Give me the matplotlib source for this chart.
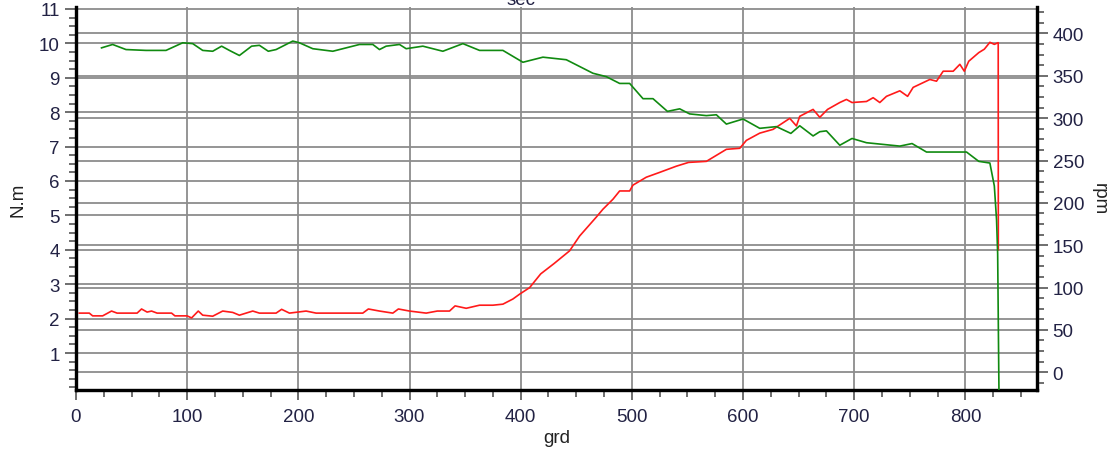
import matplotlib
matplotlib.use('Agg')
import matplotlib.pyplot as plt
from matplotlib.ticker import MultipleLocator, AutoMinorLocator
from matplotlib.transforms import blended_transform_factory

plt.rcParams['font.family'] = ['Liberation Sans', 'DejaVu Sans']

# 扭矩曲线 (N.m, 左轴)
torque_grd = [3, 12, 15, 24, 32, 37, 55, 59, 64, 68, 73, 86, 89, 100, 104, 110,
              114, 123, 132, 141, 147, 159, 165, 180, 185, 192, 207, 216, 258,
              263, 273, 285, 290, 300, 315, 325, 336, 341, 351, 363, 375, 384,
              393, 399, 408, 418, 430, 444, 453, 468, 474, 483, 489, 498, 501,
              513, 525, 540, 551, 567, 585, 597, 603, 615, 627, 642, 648, 651,
              663, 669, 676, 687, 693, 698, 711, 717, 723, 729, 741, 748, 753,
              768, 774, 780, 789, 795, 799, 803, 812, 817, 822, 826, 829.5, 829.6]
torque_nm = [2.16, 2.16, 2.08, 2.08, 2.22, 2.16, 2.16, 2.28, 2.19, 2.22, 2.16,
             2.16, 2.08, 2.08, 2.02, 2.22, 2.10, 2.07, 2.22, 2.18, 2.10, 2.22,
             2.16, 2.16, 2.27, 2.16, 2.22, 2.16, 2.16, 2.28, 2.22, 2.16, 2.28,
             2.22, 2.16, 2.22, 2.22, 2.37, 2.30, 2.39, 2.39, 2.42, 2.57, 2.71,
             2.90, 3.30, 3.60, 3.97, 4.40, 4.95, 5.18, 5.47, 5.71, 5.71, 5.88,
             6.11, 6.25, 6.43, 6.54, 6.57, 6.92, 6.95, 7.18, 7.39, 7.50, 7.82,
             7.60, 7.88, 8.08, 7.85, 8.08, 8.28, 8.37, 8.28, 8.31, 8.42, 8.28,
             8.46, 8.62, 8.46, 8.72, 8.95, 8.90, 9.19, 9.19, 9.39, 9.19, 9.48,
             9.73, 9.83, 10.03, 9.97, 10.02, 4.0]

# 转速曲线 (rpm, 右轴)
speed_grd = [23, 33, 45, 63, 81, 96, 105, 114, 123, 131, 138, 147, 158, 165,
             173, 180, 195, 201, 213, 231, 243, 255, 267, 273, 279, 291, 297,
             312, 330, 348, 363, 384, 402, 420, 441, 453, 465, 477, 489, 498,
             510, 519, 532, 543, 552, 567, 576, 585, 600, 615, 630, 643, 651,
             663, 669, 675, 687, 698, 711, 741, 752, 765, 801, 812, 822, 826,
             828, 829, 830, 830.2]
speed_rpm = [383, 387, 381, 380, 380, 389, 388, 380, 379, 385, 380, 374, 385,
             386, 379, 381, 391, 389, 382, 379, 383, 387, 387, 381, 385, 387,
             382, 385, 379, 388, 380, 380, 366, 372, 369, 361, 353, 349, 341,
             341, 323, 323, 308, 311, 305, 303, 304, 293, 299, 288, 290, 282,
             291, 279, 284, 285, 268, 276, 271, 267, 270, 260, 260, 249, 247,
             220, 180, 140, 0, -25]

grid_c = '#8c8c8c'
tick_c = '#222244'

fig = plt.figure(figsize=(11.17, 4.56), dpi=100)
ax = fig.add_axes([0.068, 0.1425, 0.86, 0.8395])
ax2 = ax.twinx()

ax.set_xlim(0, 864)
ax.set_ylim(-0.075, 11.05)
ax2.set_ylim(-21, 431)

ax.xaxis.set_major_locator(MultipleLocator(100))
ax.xaxis.set_minor_locator(AutoMinorLocator(4))
ax.yaxis.set_minor_locator(MultipleLocator(0.25))
ax2.yaxis.set_major_locator(MultipleLocator(50))
ax2.yaxis.set_minor_locator(AutoMinorLocator(4))
ax.set_yticks(range(1, 12))

# 网格线 (全部放在下层坐标轴里, 曲线在上)
ax.grid(True, which='major', color=grid_c, linewidth=1.3, zorder=0)
ax.set_axisbelow(True)
blend = blended_transform_factory(ax.transAxes, ax2.transData)
ax.hlines(range(0, 401, 50), 0, 1, transform=blend, colors=grid_c,
          linewidth=1.3, zorder=0.5)

ax.plot(torque_grd, torque_nm, color='#ff1a1a', linewidth=1.2, zorder=3)
ax2.plot(speed_grd, speed_rpm, color='#108a10', linewidth=1.2, zorder=3)

for a in (ax, ax2):
    a.spines['top'].set_visible(False)
    for s in ('left', 'right', 'bottom'):
        a.spines[s].set_linewidth(2.3)
        a.spines[s].set_color('black')
    a.tick_params(which='major', direction='out', length=8, width=1.2,
                  color='#555555', labelsize=13.5, labelcolor=tick_c)
    a.tick_params(which='minor', direction='out', length=5, width=1.2,
                  color='#555555')

ax.tick_params(axis='x', which='major', length=7, pad=6)

ax.set_xlabel('grd', fontsize=13.5, color='#222222', labelpad=3)
ax.set_ylabel('N.m', fontsize=13.5, color='#222222', labelpad=9)
ax2.set_ylabel('rpm', fontsize=13.5, color='#222222', rotation=270,
               labelpad=17)

fig.text(0.466, 0.998, 'sec', ha='center', va='center', fontsize=13.5,
         color=tick_c)

fig.savefig('out.png', dpi=100)
